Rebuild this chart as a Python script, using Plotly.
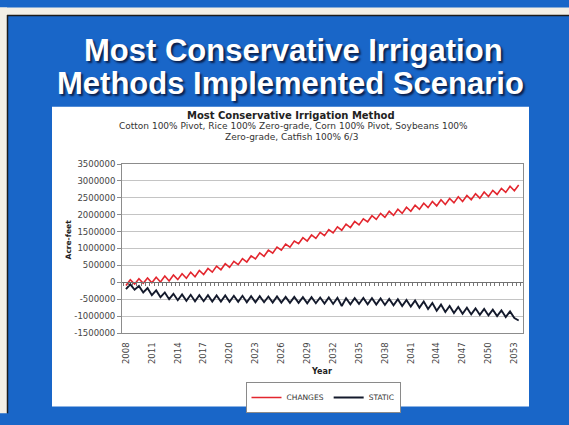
import plotly.graph_objects as go

# ---------------- data ----------------
years = list(range(2008, 2054))
tick_years = list(range(2008, 2054, 3))
tick_labels = [str(y) for y in tick_years]
y_ticks = [-1500000, -1000000, -500000, 0, 500000, 1000000, 1500000,
           2000000, 2500000, 3000000, 3500000]

changes = [
    -95000, 75000, -55000, 105000, -30000, 130000, -15000, 150000, 10000, 185000,
    40000, 215000, 80000, 255000, 120000, 300000, 165000, 350000, 230000, 410000,
    300000, 480000, 370000, 550000, 440000, 620000, 520000, 700000, 600000, 780000,
    690000, 870000, 770000, 950000, 860000, 1040000, 950000, 1130000, 1040000, 1220000,
    1140000, 1320000, 1220000, 1400000, 1300000, 1480000, 1380000, 1560000, 1460000, 1640000,
    1540000, 1720000, 1620000, 1800000, 1700000, 1880000, 1790000, 1970000, 1860000, 2040000,
    1920000, 2100000, 1980000, 2160000, 2040000, 2220000, 2100000, 2280000, 2160000, 2340000,
    2210000, 2390000, 2260000, 2440000, 2300000, 2480000, 2350000, 2530000, 2390000, 2570000,
    2440000, 2620000, 2490000, 2670000, 2540000, 2720000, 2600000, 2780000, 2660000, 2840000,
    2710000, 2880000,
]

static = [
    -200000, -60000, -220000, -110000, -300000, -170000, -380000, -240000, -440000, -300000,
    -500000, -340000, -530000, -360000, -550000, -370000, -560000, -380000, -560000, -380000,
    -570000, -390000, -570000, -390000, -580000, -400000, -580000, -400000, -590000, -410000,
    -590000, -410000, -590000, -420000, -600000, -420000, -600000, -430000, -610000, -430000,
    -610000, -440000, -620000, -440000, -620000, -450000, -630000, -450000, -640000, -460000,
    -700000, -470000, -650000, -470000, -640000, -460000, -650000, -470000, -660000, -480000,
    -670000, -490000, -680000, -500000, -700000, -520000, -720000, -540000, -750000, -570000,
    -790000, -610000, -840000, -660000, -880000, -700000, -910000, -730000, -930000, -750000,
    -950000, -770000, -960000, -790000, -980000, -810000, -1000000, -830000, -1030000, -860000,
    -1060000, -1130000,
]

# half-year periods (two readings per year)
periods = [y + h for y in years for h in (0.0, 0.5)]

# ---------------- geometry (px) ----------------
W, H = 569, 425
PL, PR, PT, PB = 122, 523, 164, 341


def xp(px):
    return (px - PL) / (PR - PL)


def yp(py):
    return (PB - py) / (PB - PT)


FONT = "DejaVu Sans"
BLUE = "#1966c8"

fig = go.Figure()

fig.add_trace(go.Scatter(
    x=periods, y=changes, mode="lines", name="CHANGES",
    line=dict(color="#e3262e", width=1.6), xaxis="x2",
))
fig.add_trace(go.Scatter(
    x=periods, y=static, mode="lines", name="STATIC",
    line=dict(color="#141a2c", width=1.9),
))

shapes = [
    # white chart box
    dict(type="rect", xref="paper", yref="paper", layer="below",
         x0=xp(52), x1=xp(529), y0=yp(418), y1=yp(104),
         fillcolor="white", line=dict(width=0)),
    # photo edges (top and left)
    dict(type="rect", xref="paper", yref="paper", layer="below",
         x0=xp(0), x1=xp(W), y0=yp(8), y1=yp(0),
         fillcolor="#f3efe6", line=dict(width=0)),
    dict(type="rect", xref="paper", yref="paper", layer="below",
         x0=xp(0), x1=xp(7), y0=yp(H), y1=yp(0),
         fillcolor="#f3efe6", line=dict(width=0)),
    dict(type="line", xref="paper", yref="paper", layer="below",
         x0=xp(7), x1=xp(W), y0=yp(8.5), y1=yp(8.5),
         line=dict(color="#1c1c1c", width=1.5)),
    dict(type="line", xref="paper", yref="paper", layer="below",
         x0=xp(7.5), x1=xp(7.5), y0=yp(H), y1=yp(8),
         line=dict(color="#1c1c1c", width=1.5)),
]

shadow = "2px 2px 2px #0b1f4a"
annotations = [
    dict(text="<b>Most Conservative Irrigation</b>", x=xp(293), y=yp(45),
         xref="paper", yref="paper", showarrow=False, xanchor="center", yanchor="middle",
         font=dict(family="Liberation Sans", size=31, color="white", shadow=shadow)),
    dict(text="<b>Methods Implemented Scenario</b>", x=xp(290), y=yp(80),
         xref="paper", yref="paper", showarrow=False, xanchor="center", yanchor="middle",
         font=dict(family="Liberation Sans", size=31, color="white", shadow=shadow)),
    dict(text="<b>Most Conservative Irrigation Method</b>", x=xp(291), y=yp(113),
         xref="paper", yref="paper", showarrow=False, xanchor="center", yanchor="middle",
         font=dict(family=FONT, size=10, color="#222222")),
    dict(text="Cotton 100% Pivot, Rice 100% Zero-grade, Corn 100% Pivot, Soybeans 100%",
         x=xp(293), y=yp(124.5), xref="paper", yref="paper", showarrow=False,
         xanchor="center", yanchor="middle",
         font=dict(family=FONT, size=9, color="#333333")),
    dict(text="Zero-grade, Catfish 100% 6/3",
         x=xp(291), y=yp(135.5), xref="paper", yref="paper", showarrow=False,
         xanchor="center", yanchor="middle",
         font=dict(family=FONT, size=9, color="#333333")),
    dict(text="<b>Acre-feet</b>", x=xp(68), y=yp(243), textangle=-90,
         xref="paper", yref="paper", showarrow=False, xanchor="center", yanchor="middle",
         font=dict(family=FONT, size=7.5, color="#222222")),
    dict(text="<b>Year</b>", x=xp(321), y=yp(381),
         xref="paper", yref="paper", showarrow=False, xanchor="center", yanchor="middle",
         font=dict(family=FONT, size=8, color="#222222")),
]

fig.update_layout(
    width=W, height=H,
    margin=dict(l=PL, r=W - PR, t=PT, b=H - PB, pad=0),
    paper_bgcolor=BLUE, plot_bgcolor="white",
    font=dict(family=FONT, size=8.5, color="#444444"),
    showlegend=True,
    legend=dict(orientation="h", x=xp(323), y=yp(408.5), xanchor="center", yanchor="middle",
                bgcolor="white", bordercolor="#8a8a8a", borderwidth=1,
                font=dict(family=FONT, size=7.5, color="#333333"),
                itemwidth=30, tracegroupgap=0),
    xaxis=dict(range=[2007.54, 2054.0], tickmode="array", tickvals=tick_years,
               ticktext=tick_labels, tickangle=-90, ticks="", showgrid=False,
               zeroline=False, showline=True, linecolor="#8c8c8c", linewidth=1,
               mirror=True, ticklabelstandoff=5,
               tickfont=dict(family=FONT, size=8.5, color="#444444")),
    xaxis2=dict(matches="x", overlaying="x", anchor="free", position=yp(287.7),
                showticklabels=False, ticks="outside", ticklen=3, tickcolor="#777777",
                tickmode="linear", tick0=2007.75, dtick=0.5,
                showline=True, linecolor="#707070", linewidth=1,
                showgrid=False, zeroline=False),
    yaxis=dict(range=[-1500000, 3500000], tickmode="array", tickvals=y_ticks,
               ticktext=[str(v) for v in y_ticks], ticks="outside", ticklen=4,
               tickcolor="#8c8c8c", showgrid=True, gridcolor="#c4c4c4", gridwidth=1,
               zeroline=False, showline=True, linecolor="#8c8c8c", mirror=True,
               tickfont=dict(family=FONT, size=8.5, color="#444444")),
    shapes=shapes,
    annotations=annotations,
)

fig.write_html("out.html")
